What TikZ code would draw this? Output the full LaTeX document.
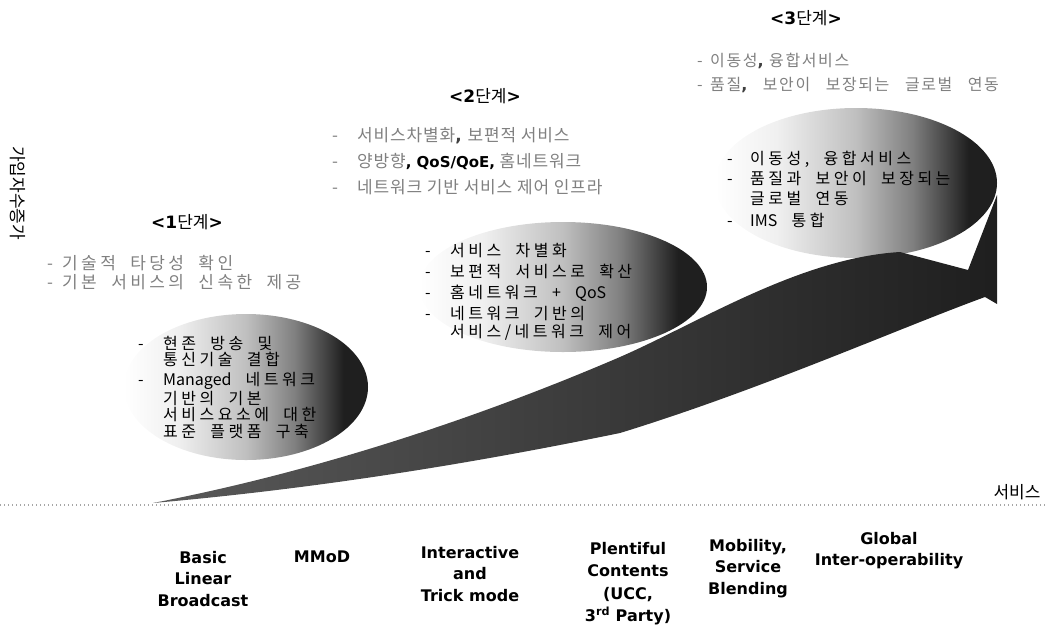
\documentclass[tikz,border=0pt]{standalone}
\usepackage{fontspec}
\setmainfont{DejaVu Sans}
\newfontfamily\kr{Noto Sans CJK KR}
\newfontfamily\krA{Noto Sans CJK KR}[LetterSpace=22,WordSpace=2]
\newfontfamily\krL{Noto Sans CJK KR}[LetterSpace=20,WordSpace=2]
\newfontfamily\krB{Noto Sans CJK KR}[LetterSpace=5]
\newfontfamily\krC{Noto Sans CJK KR}[LetterSpace=10,WordSpace=3]
\newcommand\dd[1]{\makebox[#1pt][l]{-}}
\newcommand\bc{{\normalfont\bfseries\color{black!75}, }}
\pgfdeclarehorizontalshading{egg}{100bp}{color(0bp)=(white); color(25bp)=(white); color(36bp)=(black!6); color(50bp)=(black!25); color(60bp)=(black!50); color(70bp)=(black!88); color(100bp)=(black!88)}
\begin{document}
\begin{tikzpicture}[x=1pt,y=-1pt,
  head/.style={inner sep=0pt, font=\fontsize{17}{17}\selectfont},
  upA/.style={anchor=north west, inner sep=0pt, align=left, text=black!50, font=\krL\fontsize{17}{19}\selectfont},
  upB/.style={anchor=north west, inner sep=0pt, align=left, text=black!50, font=\krB\fontsize{17}{26}\selectfont},
  upC/.style={anchor=north west, inner sep=0pt, align=left, text=black!50, font=\krC\fontsize{16}{24}\selectfont},
  inA/.style={anchor=north west, inner sep=0pt, align=left, text=black, font=\krA\fontsize{16}{16.5}\selectfont},
  inB/.style={anchor=north west, inner sep=0pt, align=left, text=black, font=\krA\fontsize{16}{18}\selectfont},
  inC/.style={anchor=north west, inner sep=0pt, align=left, text=black, font=\krA\fontsize{16}{20}\selectfont},
  lab/.style={anchor=north, inner sep=0pt, align=center, font=\bfseries\fontsize{16}{21.5}\selectfont},
  blob/.style={shading=egg},
  speck/.style={black!35, line width=1.2pt, dash pattern=on 1pt off 3pt}
]
\useasboundingbox (0,0) rectangle (1048,627);

% blobs
\shade[blob] (246,387) ellipse [x radius=122, y radius=73];
\shade[blob] (563,287) ellipse [x radius=144, y radius=65];
\shade[blob] (856,183) ellipse [x radius=141, y radius=75];

% big arrow
\shade[left color=black!65, right color=black!88]
  (153,503) .. controls (350,465) and (520,400) .. (620,357)
  .. controls (700,322) and (800,258) .. (900,252)
  -- (968,270) -- (997,195) -- (997,304) -- (985,297)
  .. controls (900,328) and (760,390) .. (620,433)
  .. controls (450,468) and (300,490) .. cycle;

% dotted baseline
\coordinate (dl) at (0,505);
\coordinate (dr) at (1048,505);
\draw[speck] (dl) -- (dr);

% headings
\node[head] (h3) at (806,18) {{\bfseries<3}{\kr 단계}{\bfseries>}};
\node[head] (h2) at (485,96) {{\bfseries<2}{\kr 단계}{\bfseries>}};
\node[head] (h1) at (187,222) {{\bfseries<1}{\kr 단계}{\bfseries>}};

% upper lists
\node[upC] (u3) at (697,53) {\dd{13}이동성\bc 융합서비스\\\dd{13}품질{\normalfont\bfseries\color{black!75},} 보안이 보장되는 글로벌 연동};
\node[upB] (u2) at (332,127) {\dd{25}서비스차별화\bc 보편적 서비스\\\dd{25}양방향{\normalfont\bfseries\fontsize{15}{26}\selectfont\color{black}, QoS/QoE,} 홈네트워크\\\dd{25}네트워크 기반 서비스 제어 인프라};
\node[upA] (u1) at (47,255) {\dd{15}기술적 타당성 확인\\\dd{15}기본 서비스의 신속한 제공};

% lists inside blobs
\node[inA] (e1t) at (138,336) {\dd{25}현존 방송 및\\\hspace*{25pt}통신기술 결합\\[3.5pt]\dd{25}{\kr Managed} 네트워크\\\hspace*{25pt}기반의 기본\\\hspace*{25pt}서비스요소에 대한\\\hspace*{25pt}표준 플랫폼 구축};
\node[inB] (e2t) at (425,243) {\dd{25}서비스 차별화\\[3pt]\dd{25}보편적 서비스로 확산\\[3pt]\dd{25}홈네트워크 + {\kr QoS}\\[3pt]\dd{25}네트워크 기반의\\\hspace*{25pt}서비스/네트워크 제어};
\node[inC] (e3t) at (727,151) {\dd{23}이동성, 융합서비스\\\dd{23}품질과 보안이 보장되는\\\hspace*{23pt}글로벌 연동\\[2pt]\dd{23}{\kr IMS} 통합};

% axis labels
\node[font=\kr\fontsize{17}{17}\selectfont, rotate=-90, inner sep=0pt] (ylab) at (18,193) {가입자수증가};
\node[font=\kr\fontsize{17}{17}\selectfont, inner sep=0pt] (xlab) at (1017,492) {서비스};

% bottom labels
\node[lab] (b1) at (203,551) {Basic\\Linear\\Broadcast};
\node[lab] (b2) at (322,551) {MMoD};
\node[lab] (b3) at (470,546) {Interactive\\and\\Trick mode};
\node[lab, font=\bfseries\fontsize{16}{22.5}\selectfont] (b4) at (628,542) {Plentiful\\Contents\\(UCC,\\3\textsuperscript{rd} Party)};
\node[lab] (b5) at (748,539) {Mobility,\\Service\\Blending};
\node[lab] (b6) at (889,532) {Global\\Inter-operability};
\end{tikzpicture}
\end{document}
